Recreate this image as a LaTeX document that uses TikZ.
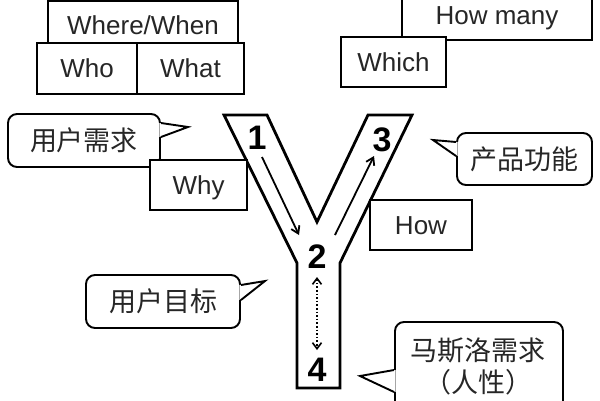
\documentclass[tikz,border=0pt]{standalone}
\usepackage{fontspec}
\setmainfont{Liberation Sans}
\newfontfamily\cjk{Noto Sans CJK SC}
\newfontfamily\numfont{Liberation Sans}
\usetikzlibrary{arrows.meta,calc}
\tikzset{
 box/.style={draw, line width=1.9pt, fill=white, inner sep=0pt, text=black!85, text height=18.6pt, text depth=0pt, font=\fontsize{26}{30}\selectfont},
 callout/.style={draw, line width=1.9pt, fill=white, rounded corners=9pt, inner sep=0pt, align=center},
 cjktext/.style={inner sep=0pt, text=black!85, font=\cjk\fontsize{27}{32}\selectfont},
 num/.style={font=\numfont\bfseries\fontsize{34}{34}\selectfont, inner sep=0pt},
 ylin/.style={line width=2.8pt, line join=miter},
 arr/.style={line width=1.8pt, -{Straight Barb[length=7pt,width=9pt]}},
 tailline/.style={line width=1.9pt, line join=miter},
}
\begin{document}
\begin{tikzpicture}[x=1pt,y=-1pt]
\useasboundingbox (0,0) rectangle (600,400);
\clip (0,0) rectangle (600,400);
% Y shape
\draw[ylin, fill=white] (224,115) -- (267,115) -- (317,222) -- (368,115) -- (412,115)
  -- (340,263) -- (340,388) -- (297,388) -- (297,263) -- cycle;
% numbers
\node[num] (n1) at (257,138) {1};
\node[num] (n3) at (382,140) {3};
\node[num] (n2) at (317,257) {2};
\node[num] (n4) at (317,370) {4};
% arrows
\draw[arr] ($(n1.center)+(5,19)$) -- ($(n2.center)+(-18,-22)$);
\draw[arr] ($(n2.center)+(18,-22)$) -- ($(n3.center)+(-8,16)$);
\draw[line width=1.6pt, dotted, {Straight Barb[length=6pt,width=9pt]}-{Straight Barb[length=6pt,width=9pt]}]
  ($(n2.center)+(0,20)$) -- ($(n4.center)+(0,-20)$);
% top-left boxes
\node[box, minimum width=190, minimum height=48] (ww) at (143,25) {Where/When};
\node[box, minimum width=100, minimum height=51] (who) at (87,68.5) {Who};
\node[box, minimum width=107, minimum height=51] (what) at (190.5,68.5) {What};
% top-right boxes
\node[box, minimum width=190, minimum height=50] (hm) at (497,15) {How many};
\node[box, minimum width=105, minimum height=50] (which) at (393.5,62) {Which};
% callout: user need
\node[callout, minimum width=152, minimum height=53] (need) at (84,140.5) {};
\node[cjktext] (needt) at (need.center) {用户需求};
\coordinate (needtip) at (188,127);
\fill[white] ($(need.east)+(-1.5,-17.5)$) -- (needtip) -- ($(need.east)+(-1.5,-3.5)$) -- cycle;
\draw[tailline] ($(need.east)+(0,-17.5)$) -- (needtip) -- ($(need.east)+(0,-3.5)$);
\node[box, minimum width=97, minimum height=50] (why) at (198.5,185) {Why};
% callout: product function
\node[callout, minimum width=135, minimum height=52] (func) at (524.5,159) {};
\node[cjktext] (funct) at (func.center) {产品功能};
\coordinate (functip) at (433,140);
\fill[white] ($(func.west)+(1.5,-17)$) -- (functip) -- ($(func.west)+(1.5,-3)$) -- cycle;
\draw[tailline] ($(func.west)+(0,-17)$) -- (functip) -- ($(func.west)+(0,-3)$);
\node[box, minimum width=102, minimum height=50] (how) at (421,225) {How};
% callout: user goal
\node[callout, minimum width=154, minimum height=53] (goal) at (163,301.5) {};
\node[cjktext] (goalt) at (goal.center) {用户目标};
\coordinate (goaltip) at (265,281);
\fill[white] ($(goal.east)+(-1.5,-16.5)$) -- (goaltip) -- ($(goal.east)+(-1.5,-1.5)$) -- cycle;
\draw[tailline] ($(goal.east)+(0,-16.5)$) -- (goaltip) -- ($(goal.east)+(0,-1.5)$);
% callout: Maslow
\node[callout, minimum width=168, minimum height=98] (maslow) at (479,371) {};
\node[cjktext] (m1) at (478,350) {马斯洛需求};
\node[cjktext] (m2) at (478,382) {（人性）};
\coordinate (masltip) at (360,376);
\fill[white] ($(maslow.west)+(1.5,-1)$) -- (masltip) -- ($(maslow.west)+(1.5,21)$) -- cycle;
\draw[tailline] ($(maslow.west)+(0,-1)$) -- (masltip) -- ($(maslow.west)+(0,21)$);
\end{tikzpicture}
\end{document}
